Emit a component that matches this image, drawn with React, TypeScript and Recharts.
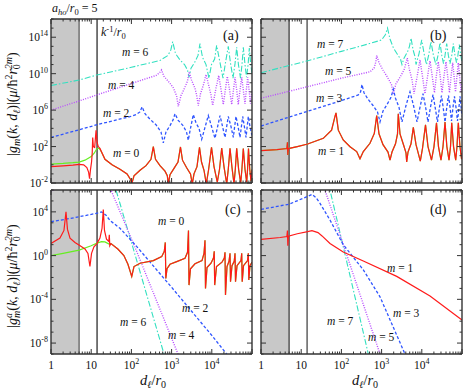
import { LineChart, Line, XAxis, YAxis, ReferenceArea, ReferenceLine } from "recharts";

const SERIF = "Liberation Serif, Times New Roman, DejaVu Serif, serif";
const FRAME = "#333";

const RED = "#ff1a1a";
const GREEN = "#66ee22";
const BLUE = "#2f55ff";
const PURPLE = "#b94dff";
const CYAN = "#33e0c0";

const A_HO = 5; // a_ho / r0
const K_INV = 14; // k^-1 / r0

// ticks
const X_MAJOR = [1, 10, 100, 1000, 10000, 100000];
const X_LABELED = [1, 10, 100, 1000, 10000];
const X_MINOR = [
  2, 3, 4, 5, 6, 7, 8, 9, 20, 30, 40, 50, 60, 70, 80, 90, 200, 300, 400, 500, 600, 700, 800, 900,
  2000, 3000, 4000, 5000, 6000, 7000, 8000, 9000, 20000, 30000, 40000, 50000, 60000, 70000, 80000, 90000,
];
const X_TICKS = [...X_MAJOR, ...X_MINOR];

const Y_TOP_MAJOR = [1e-2, 1e2, 1e6, 1e10, 1e14];
const Y_TOP_TICKS = [
  1e-2, 1e-1, 1, 1e1, 1e2, 1e3, 1e4, 1e5, 1e6, 1e7, 1e8, 1e9, 1e10, 1e11, 1e12, 1e13, 1e14, 1e15, 1e16,
];
const Y_BOT_MAJOR = [1e-8, 1e-4, 1, 1e4];
const Y_BOT_TICKS = [1e-9, 1e-8, 1e-7, 1e-6, 1e-5, 1e-4, 1e-3, 1e-2, 1e-1, 1, 1e1, 1e2, 1e3, 1e4, 1e5, 1e6];

// ---- panel (a): |g_m|, even m ----
const A_M0 = [
  [1, 0.63], [2, 0.76], [3.5, 0.9], [5, 1.1], [6.5, 1.0], [7.8, 0.5], [8.6, 0.16], [9.1, 0.03], [9.6, 0.3],
  [10.2, 2], [10.6, 20], [10.9, 1000], [11.3, 100], [12.2, 80], [13.2, 6000], [14, 300], [15, 100], [16.5, 63],
  [22, 4], [33, 1], [52, 0.32], [78, 0.1], [95, 0.025], [102, 0.008], [116, 0.063], [164, 0.25], [231, 0.8],
  [307, 4], [351, 100], [398, 4], [514, 0.8], [685, 0.2], [782, 0.063], [828, 0.008], [912, 0.08], [1148, 0.4],
  [1443, 2], [1663, 90], [1866, 3.2], [2349, 0.5], [2951, 0.1], [3273, 0.008], [3606, 0.1], [4285, 0.63],
  [4943, 80], [5546, 2], [6400, 0.25], [7300, 0.008], [8280, 0.25], [9840, 80], [11350, 0.63], [13700, 0.0126],
  [15560, 0.32], [17640, 70], [20100, 0.63], [23500, 0.008], [25700, 0.32], [28380, 63], [31800, 0.5],
  [35650, 0.008], [38450, 0.32], [41600, 63], [46500, 0.3], [52360, 0.01], [56000, 0.3], [60800, 60],
  [67000, 0.3], [73800, 0.0126], [77500, 0.3], [81800, 60], [88000, 0.3], [94400, 0.016], [100000, 0.3],
];
const A_M0_GREEN_LEFT = [
  [1, 1.2], [2, 1.4], [3.5, 1.7], [5, 2], [7, 3.2], [10, 8], [12, 20], [13.5, 50], [14.5, 63], [16, 63], [18, 25],
];
const A_M2 = [
  [1, 1000], [5, 7000], [14, 25000], [50, 1e5], [92, 1.9e5], [130, 3.2e5], [163, 6.3e5], [184, 2.3e6],
  [218, 4e5], [290, 1e5], [409, 2.5e4], [545, 4000], [622, 250], [725, 4000], [912, 2e4], [1084, 8e4],
  [1216, 4e5], [1443, 8e4], [1922, 2e4], [2349, 4000], [2600, 500], [2951, 1e4], [3467, 3.2e5], [4046, 4e4],
  [4808, 1e4], [5610, 630], [6770, 1.26e4], [8180, 2.5e5], [9840, 1.6e4], [12000, 800], [14000, 1.6e4],
  [16000, 2.5e5], [18500, 1.6e4], [21300, 1000], [23500, 1.6e4], [25700, 2e5], [30000, 1.6e4], [34300, 1000],
  [37000, 1.6e4], [40000, 2e5], [45000, 1.6e4], [50300, 1000], [54500, 1.6e4], [58700, 2e5], [64500, 1.6e4],
  [71000, 1000], [76000, 1.6e4], [81000, 2e5], [89000, 1.6e4], [100000, 1600],
];
const A_M4 = [
  [1, 1e6], [5, 1e7], [13.7, 4.6e7], [50, 3e8], [164, 1.7e9], [409, 6.3e9], [500, 1.26e10], [561, 2.5e10],
  [647, 5e9], [813, 1.6e9], [1084, 3.2e8], [1324, 4e7], [1468, 2.5e6], [1714, 4e7], [2094, 2.5e8], [2488, 1.6e9],
  [2754, 1.6e10], [3126, 2e9], [3820, 2.5e8], [4210, 4e7], [4613, 3.2e6], [5240, 6.3e7], [6220, 6.3e8],
  [7180, 8e9], [8280, 6.3e8], [9510, 5e7], [10520, 3.2e6], [12700, 2.5e8], [14860, 6.3e9], [16900, 2e8],
  [19300, 4e6], [21700, 1.6e8], [24300, 5e9], [27700, 1.6e8], [31300, 4e6], [34600, 1.6e8], [37800, 4e9],
  [41600, 1.6e8], [45600, 4e6], [50300, 1.6e8], [55500, 4e9], [60800, 1.6e8], [67000, 5e6], [72200, 1.6e8],
  [78200, 4e9], [84600, 1.6e8], [91800, 5e6], [100000, 1.6e8],
];
const A_M6 = [
  [1, 5e8], [5, 2e9], [13.7, 7e9], [100, 5e10], [514, 2.8e11], [813, 1e12], [955, 4e12], [1065, 3.2e13],
  [1250, 1.6e12], [1618, 3.2e11], [2094, 1e11], [2488, 2.5e10], [2710, 4e9], [3040, 4e10], [3715, 1.6e11],
  [4540, 1e12], [5085, 2e13], [5870, 6.3e11], [7180, 1e11], [8510, 3.2e9], [9840, 1e11], [11760, 4e11],
  [13200, 1.26e13], [16000, 1.6e11], [19000, 3.2e9], [21900, 1.6e11], [25700, 1e13], [29300, 1.26e11],
  [33700, 3.2e9], [37800, 1.26e11], [41600, 8e12], [46000, 1e11], [51800, 3.2e9], [56400, 1e11], [60800, 8e12],
  [67000, 1e11], [73000, 4e9], [80000, 1e11], [85700, 6.3e12], [93000, 1e11], [100000, 1e10],
];

// ---- panel (b): |g_m|, odd m ----
const B_M1 = [
  [1, 35], [2.5, 45], [4.4, 60], [4.55, 300], [4.65, 12], [4.8, 60], [8, 100], [14.5, 190], [35.5, 800],
  [57, 6300], [69, 1.9e5], [73.4, 5e5], [83.8, 6300], [111, 525], [164, 95], [240, 28], [290, 4.5], [351, 28],
  [514, 230], [659, 2800], [755, 2.5e5], [861, 2500], [1084, 160], [1443, 25], [1618, 3.2], [1815, 25],
  [2218, 200], [2488, 2500], [2600, 4e5], [2870, 2500], [3505, 160], [4046, 20], [4210, 2], [4540, 25],
  [5390, 200], [6150, 1.26e4], [7180, 160], [9180, 2.5], [10400, 63], [12360, 2.5e4], [14260, 100],
  [17420, 3.2], [20100, 100], [23200, 4e4], [26000, 100], [30000, 3.2], [33700, 100], [37800, 5e4],
  [42000, 100], [47500, 3.2], [51800, 100], [55500, 4e4], [61600, 100], [69700, 3.2], [75000, 100],
  [81000, 4e4], [89000, 100], [97500, 4], [100000, 20],
];
const B_M3 = [
  [1, 1.8e4], [10, 4.5e5], [100, 1.1e7], [263, 4.6e7], [300, 1e8], [325, 6.3e8], [365, 8e7], [459, 1.6e7],
  [611, 3.2e6], [791, 6.3e5], [912, 5e4], [1084, 8e5], [1362, 4e6], [1714, 2.5e7], [1954, 2e8], [2218, 2e7],
  [2710, 2e6], [3215, 5e4], [4046, 3.2e6], [5085, 1e8], [6220, 3.2e6], [7600, 5e4], [9100, 2.5e6],
  [10700, 6.3e7], [12360, 2.5e6], [14260, 5e4], [16400, 2e6], [19000, 5e7], [21500, 2e6], [24600, 5e4],
  [27500, 2e6], [30900, 4e7], [34000, 2e6], [37800, 5e4], [41800, 2e6], [46100, 4e7], [50500, 2e6],
  [54800, 6.3e4], [59700, 2e6], [65000, 3.2e7], [70900, 2e6], [77200, 6.3e4], [84000, 2e6], [89100, 3.2e7],
  [95000, 2e6], [100000, 2e5],
];
const B_M5 = [
  [1, 2e7], [10, 2.5e8], [100, 3.2e9], [514, 1.6e10], [650, 4e10], [720, 2e11], [755, 1e12], [861, 1.6e11],
  [1084, 2.5e10], [1402, 4e9], [1763, 6.3e8], [1954, 6.3e7], [2280, 8e8], [2870, 4e9], [3606, 2.5e10],
  [4360, 5e11], [4943, 2.5e10], [5680, 2.5e9], [6400, 6.3e7], [7600, 4e9], [9020, 3.2e11], [10400, 5e9],
  [12000, 6.3e7], [13900, 5e9], [16000, 2.5e11], [18200, 5e9], [20700, 8e7], [22900, 5e9], [25700, 2e11],
  [28700, 5e9], [31800, 8e7], [35600, 5e9], [40000, 2e11], [44100, 5e9], [48800, 8e7], [53500, 5e9],
  [58700, 1.6e11], [63500, 5e9], [68900, 1e8], [74800, 5e9], [81000, 1.6e11], [87500, 5e9], [95000, 1e8],
  [100000, 1e9],
];
const B_M7 = [
  [1, 1.26e10], [14, 2.5e11], [100, 2.8e12], [500, 2e13], [1000, 5e13], [1250, 2e14], [1402, 1e15],
  [1618, 6.3e13], [1977, 6.3e12], [2488, 1.26e12], [2950, 4e11], [3215, 1e11], [3606, 5e11], [4410, 2.5e12],
  [4940, 1e13], [5390, 8e13], [6080, 4e12], [6840, 6.3e11], [7180, 1e11], [8530, 1.6e12], [9950, 5e13],
  [11400, 1.6e12], [13100, 1e11], [14900, 1.26e12], [16900, 3.2e13], [19500, 1e12], [22500, 1e11],
  [25300, 1e12], [28400, 2.5e13], [31400, 1e12], [34700, 1.26e11], [37800, 1e12], [41600, 2e13], [45800, 1e12],
  [50300, 1.26e11], [55500, 1e12], [60800, 2e13], [67000, 1e12], [73000, 1.6e11], [79000, 1e12],
  [85700, 1.6e13], [93000, 1e12], [100000, 2e11],
];

// ---- panel (c): |g^a_m|, even m ----
const C_M0 = [
  [1, 13], [1.67, 40], [2.1, 200], [2.36, 1e4], [2.57, 250], [2.97, 40], [3.95, 16], [5.3, 8], [7, 4],
  [8.3, 1.6], [9.3, 0.1], [10.2, 1.6], [11.7, 6.3], [13.9, 12.6], [16.5, 40], [18.6, 316], [20, 1.6e4],
  [21.4, 200], [24, 32], [27.4, 20], [28.2, 80], [29, 8], [31, 12.6], [46, 4], [65, 1], [82, 0.16],
  [102, 0.0126], [116, 0.1], [164, 0.2], [351, 0.35], [567, 0.8], [658, 2.5], [697, 16], [718, 0.008],
  [769, 0.063], [912, 0.16], [1340, 0.28], [2153, 0.56], [2488, 2], [2630, 200], [2710, 0.002], [2951, 0.063],
  [3820, 0.18], [5700, 0.35], [6400, 1.6], [6770, 25], [6970, 0.001], [7600, 0.08], [9550, 0.2], [11000, 0.6],
  [11500, 2.5], [11800, 0.002], [13100, 0.1], [17900, 0.25], [20500, 0.6], [21300, 2], [21900, 0.00025],
  [23900, 0.1], [26800, 0.3], [28400, 1.6], [29200, 0.004], [31800, 0.12], [36100, 0.3], [37800, 1.6],
  [38900, 0.004], [42400, 0.12], [53200, 0.35], [55500, 1.6], [57100, 0.004], [61500, 0.12], [77500, 0.35],
  [81000, 1.6], [83400, 0.006], [89000, 0.12], [100000, 0.25],
];
const C_M0_GREEN_LEFT = [[1, 1], [2, 1.6], [5, 3.2], [10, 8], [14, 14], [18, 19], [22, 18], [27, 12], [31, 12.6]];
const C_M2 = [
  [1, 1260], [3, 2500], [8, 5000], [15, 8000], [18, 1e4], [23.4, 5000], [29.4, 1600], [52, 316], [138, 6.3],
  [1000, 1.26e-3], [10000, 5e-8], [23400, 1e-9], [30000, 1.5e-10],
];
const C_M4 = [[1, 8e5], [3, 4e6], [8, 2e7], [14, 4e7], [18, 3.2e7], [24, 4e6], [31, 1e6], [138, 2], [1443, 1e-9], [2000, 1e-11]];
const C_M6 = [[1, 3.2e8], [14, 1e11], [18, 1e11], [25, 1e9], [41.4, 1e6], [110, 5], [647, 1e-9], [800, 1e-11]];

// ---- panel (d): |g^a_m|, odd m ----
const D_M1 = [
  [1, 31], [3, 45], [4.4, 55], [4.55, 200], [4.65, 8], [4.8, 60], [8, 100], [14.5, 155], [18.5, 190],
  [26.2, 126], [33, 63], [52, 13], [111, 2.1], [351, 0.32], [2376, 0.0126], [16000, 2e-4], [100000, 1.26e-6],
];
const D_M3 = [
  [1, 1.7e4], [5, 5e4], [14, 2.5e5], [18.5, 4e5], [23.4, 2e5], [29.4, 6e4], [52, 1.8e3], [111, 10],
  [351, 0.05], [912, 1.7e-4], [3820, 1e-9], [5000, 1e-10],
];
const D_M5 = [[1, 1e7], [10, 1e8], [18, 3e8], [24, 2e8], [39, 1e6], [912, 1e-9], [1200, 1e-11]];
const D_M7 = [[1, 1e9], [15, 1e10], [22, 5e9], [35, 5e8], [52, 1e6], [467, 1e-9], [600, 1e-11]];

const pts = (a: number[][]) => a.map(([x, y]) => ({ x, y }));

const Sup = ({ v }: { v: number }) => {
  const e = Math.round(Math.log10(v));
  return (
    <>
      10<tspan fontSize={8} dy={-5}>{e}</tspan>
    </>
  );
};

const xTick = (side: string, labels: boolean) => (p: any) => {
  const v = p.payload.value;
  const len = X_MAJOR.includes(v) ? 5 : 2.5;
  const dir = side === "bottom" ? -1 : 1;
  return (
    <g>
      <line x1={p.x} x2={p.x} y1={p.y} y2={p.y + dir * len} stroke={FRAME} strokeWidth={1} />
      {labels && X_LABELED.includes(v) && (
        <text x={p.x} y={p.y + 15} textAnchor="middle" fontSize={11.5} style={{ fontFamily: SERIF }} fill="#111">
          {v === 1 ? "1" : v === 10 ? "10" : <Sup v={v} />}
        </text>
      )}
    </g>
  );
};

const yTick = (side: string, major: number[], labels: boolean) => (p: any) => {
  const v = p.payload.value;
  const isMajor = major.includes(v);
  const len = isMajor ? 5 : 2.5;
  const dir = side === "left" ? 1 : -1;
  return (
    <g>
      <line x1={p.x} x2={p.x + dir * len} y1={p.y} y2={p.y} stroke={FRAME} strokeWidth={1} />
      {labels && isMajor && (
        <text x={p.x - 3} y={p.y + 4} textAnchor="end" fontSize={11.5} style={{ fontFamily: SERIF }} fill="#111">
          <Sup v={v} />
        </text>
      )}
    </g>
  );
};

type Curve = { data: number[][]; color: string; width: number; dash?: string };

function Panel(props: {
  left: number;
  top: number;
  width: number;
  height: number;
  box: { top: number; right: number; bottom: number; left: number };
  yDomain: number[];
  yTicks: number[];
  yMajor: number[];
  xLabels: boolean;
  yLabels: boolean;
  dark: boolean;
  curves: Curve[];
}) {
  const { left, top, width, height, box, yDomain, yTicks, yMajor, xLabels, yLabels, dark, curves } = props;
  const axisLine = { stroke: FRAME, strokeWidth: 1.4 };
  return (
    <div style={{ position: "absolute", left, top }}>
      <LineChart width={width} height={height} margin={{ top: 0, right: 0, bottom: 0, left: 0 }}>
        <XAxis
          xAxisId="b"
          dataKey="x"
          type="number"
          scale="log"
          domain={[1, 1e5]}
          allowDataOverflow
          ticks={X_TICKS}
          interval={0}
          height={box.bottom}
          tickSize={0}
          tickMargin={0}
          tickLine={false}
          axisLine={axisLine}
          tick={xTick("bottom", xLabels)}
        />
        <XAxis
          xAxisId="t"
          orientation="top"
          dataKey="x"
          type="number"
          scale="log"
          domain={[1, 1e5]}
          allowDataOverflow
          ticks={X_TICKS}
          interval={0}
          height={box.top}
          tickSize={0}
          tickMargin={0}
          tickLine={false}
          axisLine={axisLine}
          tick={xTick("top", false)}
        />
        <YAxis
          yAxisId="l"
          type="number"
          scale="log"
          domain={yDomain}
          allowDataOverflow
          ticks={yTicks}
          interval={0}
          width={box.left}
          tickSize={0}
          tickMargin={0}
          tickLine={false}
          axisLine={axisLine}
          tick={yTick("left", yMajor, yLabels)}
        />
        <YAxis
          yAxisId="r"
          orientation="right"
          type="number"
          scale="log"
          domain={yDomain}
          allowDataOverflow
          ticks={yTicks}
          interval={0}
          width={box.right}
          tickSize={0}
          tickMargin={0}
          tickLine={false}
          axisLine={axisLine}
          tick={yTick("right", yMajor, false)}
        />
        <ReferenceArea xAxisId="b" yAxisId="l" x1={1} x2={A_HO} fill="#c8c8c8" fillOpacity={1} stroke="none" />
        <ReferenceLine xAxisId="b" yAxisId="l" x={A_HO} stroke={dark ? "#111" : "#3a3a3a"} strokeWidth={1} />
        <ReferenceLine xAxisId="b" yAxisId="l" x={K_INV} stroke={dark ? "#111" : "#555"} strokeWidth={dark ? 1 : 1.6} />
        {curves.map((c, i) => (
          <Line
            key={i}
            xAxisId="b"
            yAxisId="l"
            data={pts(c.data)}
            dataKey="y"
            type="linear"
            stroke={c.color}
            strokeWidth={c.width}
            strokeDasharray={c.dash}
            dot={false}
            activeDot={false}
            isAnimationActive={false}
          />
        ))}
      </LineChart>
    </div>
  );
}

const blue = (data: number[][]): Curve => ({ data, color: BLUE, width: 1.3, dash: "3 2" });
const purple = (data: number[][]): Curve => ({ data, color: PURPLE, width: 1.4, dash: "1 1.4" });
const cyan = (data: number[][]): Curve => ({ data, color: CYAN, width: 1.1, dash: "6 2 1.5 2" });
const red = (data: number[][]): Curve => ({ data, color: RED, width: 1.2 });
const green = (data: number[][]): Curve => ({ data, color: GREEN, width: 1.2 });

const ML = ({ x, y, n }: { x: number; y: number; n: number }) => (
  <text x={x} y={y} fontSize={11.5}>
    <tspan fontStyle="italic">m</tspan> = {n}
  </text>
);

const XTitle = ({ x }: { x: number }) => (
  <text x={x} y={385} fontSize={14.5}>
    <tspan fontStyle="italic">d</tspan>
    <tspan fontSize={10} dy={3} fontStyle="italic">ℓ</tspan>
    <tspan dy={-3}>/</tspan>
    <tspan fontStyle="italic">r</tspan>
    <tspan fontSize={10} dy={3}>0</tspan>
  </text>
);

export default function App() {
  return (
    <div style={{ position: "absolute", left: 0, top: 0, width: 470, height: 392, background: "#fff", fontFamily: SERIF }}>
      <Panel
        left={0}
        top={0}
        width={260}
        height={190}
        box={{ top: 19, right: 8, bottom: 7, left: 51 }}
        yDomain={[1e-2, 1e16]}
        yTicks={Y_TOP_TICKS}
        yMajor={Y_TOP_MAJOR}
        xLabels={false}
        yLabels={true}
        dark={false}
        curves={[
          cyan(A_M6),
          purple(A_M4),
          blue(A_M2),
          green([...A_M0_GREEN_LEFT, ...A_M0.filter(([d]) => d > 20)]),
          red(A_M0),
        ]}
      />
      <Panel
        left={253}
        top={0}
        width={217}
        height={190}
        box={{ top: 19, right: 8, bottom: 7, left: 8 }}
        yDomain={[1e-2, 1e16]}
        yTicks={Y_TOP_TICKS}
        yMajor={Y_TOP_MAJOR}
        xLabels={false}
        yLabels={false}
        dark={true}
        curves={[cyan(B_M7), purple(B_M5), blue(B_M3), green(B_M1), red(B_M1)]}
      />
      <Panel
        left={0}
        top={183}
        width={260}
        height={209}
        box={{ top: 7, right: 8, bottom: 38, left: 51 }}
        yDomain={[1e-9, 1e6]}
        yTicks={Y_BOT_TICKS}
        yMajor={Y_BOT_MAJOR}
        xLabels={true}
        yLabels={true}
        dark={false}
        curves={[
          cyan(C_M6),
          purple(C_M4),
          blue(C_M2),
          green([...C_M0_GREEN_LEFT, ...C_M0.filter(([d]) => d > 31)]),
          red(C_M0),
        ]}
      />
      <Panel
        left={253}
        top={183}
        width={217}
        height={209}
        box={{ top: 7, right: 8, bottom: 38, left: 8 }}
        yDomain={[1e-9, 1e6]}
        yTicks={Y_BOT_TICKS}
        yMajor={Y_BOT_MAJOR}
        xLabels={true}
        yLabels={false}
        dark={true}
        curves={[cyan(D_M7), purple(D_M5), blue(D_M3), red(D_M1)]}
      />

      <svg
        width={470}
        height={392}
        style={{ position: "absolute", left: 0, top: 0, pointerEvents: "none", fontFamily: SERIF }}
        fill="#111"
      >
        {/* header notes */}
        <text x={52} y={12} fontSize={12}>
          <tspan fontStyle="italic">a</tspan>
          <tspan fontSize={8.5} dy={2.5} fontStyle="italic">ho</tspan>
          <tspan dy={-2.5}>/</tspan>
          <tspan fontStyle="italic">r</tspan>
          <tspan fontSize={8.5} dy={2.5}>0</tspan>
          <tspan dy={-2.5}> = 5</tspan>
        </text>
        <text x={101} y={36} fontSize={12}>
          <tspan fontStyle="italic">k</tspan>
          <tspan fontSize={8.5} dy={-4.5}>-1</tspan>
          <tspan dy={4.5}>/</tspan>
          <tspan fontStyle="italic">r</tspan>
          <tspan fontSize={8.5} dy={2.5}>0</tspan>
        </text>

        {/* panel letters */}
        <text x={223} y={40} fontSize={14}>(a)</text>
        <text x={430} y={40} fontSize={14}>(b)</text>
        <text x={225} y={214} fontSize={14}>(c)</text>
        <text x={430} y={214} fontSize={14}>(d)</text>

        {/* curve labels */}
        <ML x={122} y={56} n={6} />
        <ML x={108} y={89} n={4} />
        <ML x={103} y={117} n={2} />
        <ML x={113} y={157} n={0} />

        <ML x={317} y={48} n={7} />
        <ML x={325} y={75} n={5} />
        <ML x={316} y={102} n={3} />
        <ML x={318} y={155} n={1} />

        <ML x={158} y={225} n={0} />
        <ML x={182} y={312} n={2} />
        <ML x={120} y={326} n={6} />
        <ML x={168} y={339} n={4} />

        <ML x={387} y={272} n={1} />
        <ML x={393} y={317} n={3} />
        <ML x={327} y={325} n={7} />
        <ML x={368} y={341} n={5} />

        {/* axis titles */}
        <XTitle x={140} />
        <XTitle x={352} />

        <text transform="translate(17,104) rotate(-90)" textAnchor="middle" fontSize={14}>
          |<tspan fontStyle="italic">g</tspan>
          <tspan fontSize={10} dy={3} fontStyle="italic">m</tspan>
          <tspan dy={-3}>(</tspan>
          <tspan fontStyle="italic">k</tspan>, <tspan fontStyle="italic">d</tspan>
          <tspan fontSize={10} dy={3} fontStyle="italic">ℓ</tspan>
          <tspan dy={-3}>)|(</tspan>
          <tspan fontStyle="italic">μ</tspan>/ħ<tspan fontSize={10} dy={-5}>2</tspan>
          <tspan dy={5} fontStyle="italic">r</tspan>
          <tspan fontSize={10} dy={3}>0</tspan>
          <tspan fontSize={10} dx={-5} dy={-8.5} fontStyle="italic">2m</tspan>
          <tspan dy={5.5}>)</tspan>
        </text>
        <text transform="translate(17,276) rotate(-90)" textAnchor="middle" fontSize={14}>
          |<tspan fontStyle="italic">g</tspan>
          <tspan fontSize={10} dy={-5.5} fontStyle="italic">a</tspan>
          <tspan fontSize={10} dx={-5} dy={8.5} fontStyle="italic">m</tspan>
          <tspan dy={-3}>(</tspan>
          <tspan fontStyle="italic">k</tspan>, <tspan fontStyle="italic">d</tspan>
          <tspan fontSize={10} dy={3} fontStyle="italic">ℓ</tspan>
          <tspan dy={-3}>)|(</tspan>
          <tspan fontStyle="italic">μ</tspan>/ħ<tspan fontSize={10} dy={-5}>2</tspan>
          <tspan dy={5} fontStyle="italic">r</tspan>
          <tspan fontSize={10} dy={3}>0</tspan>
          <tspan fontSize={10} dx={-5} dy={-8.5} fontStyle="italic">2m</tspan>
          <tspan dy={5.5}>)</tspan>
        </text>
      </svg>
    </div>
  );
}
